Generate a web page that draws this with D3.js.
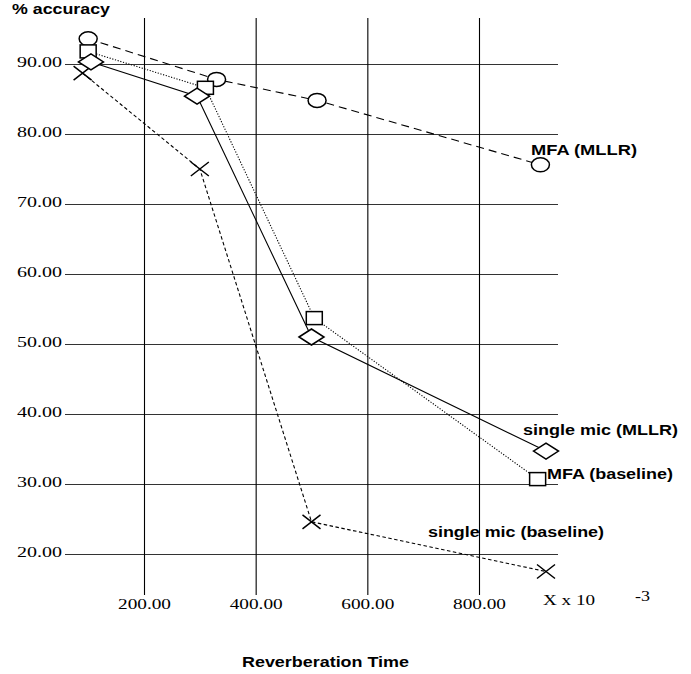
<!DOCTYPE html>
<html>
<head>
<meta charset="utf-8">
<script src="https://cdn.jsdelivr.net/npm/d3@7"></script>
<style>
  html, body { margin: 0; padding: 0; background: #fff; }
  svg { display: block; }
</style>
</head>
<body>
<svg id="chart" width="691" height="674"></svg>
<script>
// Reverberation time (x 10^-3 s) against recognition accuracy (%)
const xTicks = [200, 400, 600, 800];
const yTicks = [20, 30, 40, 50, 60, 70, 80, 90];

const mfaMllrX = [100, 330, 510, 910];
const mfaMllrY = [93.6, 87.8, 84.8, 75.6];

const mfaBaseX = [100, 310, 505, 905];
const mfaBaseY = [91.8, 86.6, 53.7, 30.7];

const micMllrX = [105, 295, 500, 920];
const micMllrY = [90.3, 85.4, 51.0, 34.7];

const micBaseX = [90, 300, 500, 920];
const micBaseY = [88.7, 75.0, 24.6, 17.5];

const seriesNames = ["MFA (MLLR)", "MFA (baseline)", "single mic (MLLR)", "single mic (baseline)"];

const svg = d3.select("#chart");
const x = d3.scaleLinear().domain([200, 800]).range([144, 479]);
const y = d3.scaleLinear().domain([20, 90]).range([554, 64]);

const serif = "'Liberation Serif', 'Times New Roman', serif";
const sans = "'Liberation Sans', Arial, Helvetica, sans-serif";

// horizontal grid lines with value labels
const gridLeft = 65, gridRight = 558;
const yAxis = svg.append("g")
  .attr("transform", `translate(${gridLeft},0)`)
  .call(d3.axisLeft(y).tickValues(yTicks).tickSize(-(gridRight - gridLeft)).tickPadding(3)
    .tickFormat(d3.format(".2f")));
yAxis.select(".domain").remove();
yAxis.selectAll("line").attr("stroke", "#333").attr("stroke-width", 1.1);
yAxis.selectAll("text")
  .attr("font-family", serif).attr("font-size", 15).attr("fill", "#000")
  .attr("dy", null).attr("y", 2)
  .attr("textLength", 45).attr("lengthAdjust", "spacingAndGlyphs");

// vertical grid lines with value labels
const gridTop = 18, gridBottom = 595;
const xAxis = svg.append("g")
  .attr("transform", `translate(0,${gridBottom})`)
  .call(d3.axisBottom(x).tickValues(xTicks).tickSize(-(gridBottom - gridTop))
    .tickFormat(d3.format(".2f")));
xAxis.select(".domain").remove();
xAxis.selectAll("line").attr("stroke", "#000").attr("stroke-width", 1.1);
xAxis.selectAll("text")
  .attr("font-family", serif).attr("font-size", 15).attr("fill", "#000")
  .attr("dy", null).attr("y", 14)
  .attr("textLength", 53).attr("lengthAdjust", "spacingAndGlyphs");

// series lines
const series = [
  { name: seriesNames[0], xs: mfaMllrX, ys: mfaMllrY, dash: "8,5", mark: "circle" },
  { name: seriesNames[1], xs: mfaBaseX, ys: mfaBaseY, dash: "1.2,1.6", mark: "square" },
  { name: seriesNames[2], xs: micMllrX, ys: micMllrY, dash: null, mark: "diamond" },
  { name: seriesNames[3], xs: micBaseX, ys: micBaseY, dash: "3.5,2.5", mark: "cross" }
];

const line = d3.line().x(d => x(d[0])).y(d => y(d[1]));
series.forEach(s => {
  const pts = s.xs.map((v, i) => [v, s.ys[i]]);
  svg.append("path")
    .attr("d", line(pts))
    .attr("fill", "none")
    .attr("stroke", "#000")
    .attr("stroke-width", 1.1)
    .attr("stroke-dasharray", s.dash);
});

// markers
const shapes = {
  circle: (g) => g.append("ellipse").attr("rx", 9).attr("ry", 7),
  square: (g) => g.append("rect").attr("x", -8).attr("y", -6.5).attr("width", 16).attr("height", 13),
  diamond: (g) => g.append("path").attr("d", "M-12.5,0 L0,-8 L12.5,0 L0,8 Z"),
  cross: (g) => g.append("path").attr("d", "M-9,-7 L9,7 M-9,7 L9,-7")
};
["cross", "circle", "square", "diamond"].forEach(kind => {
  const s = series.find(d => d.mark === kind);
  s.xs.forEach((v, i) => {
    const g = svg.append("g").attr("transform", `translate(${x(v)},${y(s.ys[i])})`);
    shapes[kind](g)
      .attr("fill", kind === "cross" ? "none" : "#fff")
      .attr("stroke", "#000")
      .attr("stroke-width", 1.5);
  });
});

// text labels
function label(txt, px, py, len, opts = {}) {
  return svg.append("text")
    .attr("x", px).attr("y", py)
    .attr("font-family", opts.family || sans)
    .attr("font-weight", opts.weight || "bold")
    .attr("font-size", opts.size || 14)
    .attr("textLength", len).attr("lengthAdjust", "spacingAndGlyphs")
    .attr("fill", "#000")
    .text(txt);
}

label("% accuracy", 12, 14, 98);
label(seriesNames[0], 531, 155, 106);
label(seriesNames[2], 523, 435, 155);
label(seriesNames[1], 547, 479, 126);
label(seriesNames[3], 428, 537, 176);
label("Reverberation Time", 242, 667, 167);
label("X x 10", 543, 605, 52, { family: serif, weight: "normal", size: 15 });
label("-3", 635, 601, 15, { family: serif, weight: "normal", size: 15 });
</script>
</body>
</html>
